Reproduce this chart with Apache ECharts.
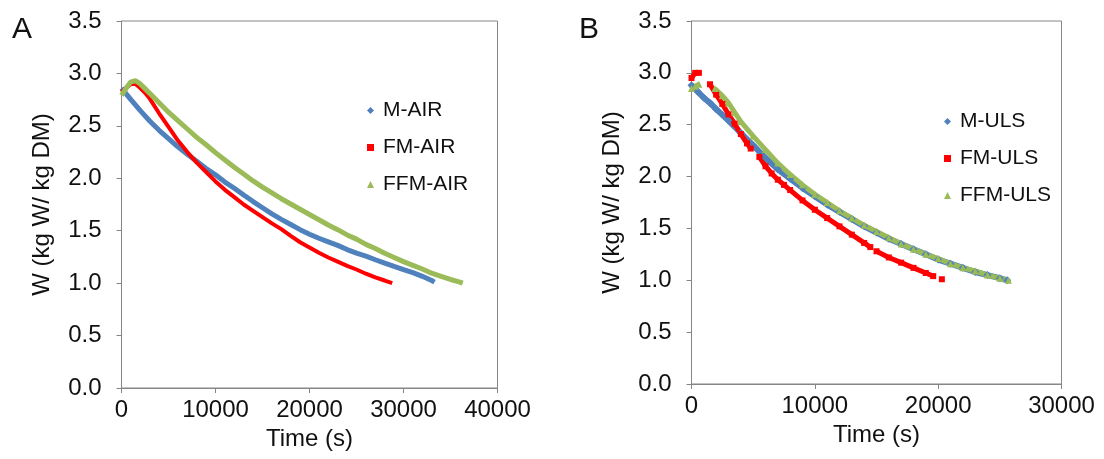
<!DOCTYPE html>
<html><head><meta charset="utf-8">
<script src="https://cdn.jsdelivr.net/npm/echarts@6/dist/echarts.min.js"></script>
<style>html,body{margin:0;padding:0;background:#fff}#c{width:1104px;height:459px}</style>
</head><body><div id="c"></div>
<script>
// ---- Panel A (AIR) ----
const tA_M = [0,1000,2000,3000,4000,5000,6000,7000,8000,9000,10000,11000,12000,13000,14000,15000,16000,17000,18000,19000,20000,21000,22000,23000,24000,25000,26000,27000,28000,29000,30000,31000,32000,33000,33300];
const wA_M = [2.86,2.75,2.645,2.546,2.458,2.379,2.30,2.23,2.162,2.093,2.033,1.964,1.905,1.84,1.778,1.719,1.66,1.608,1.559,1.51,1.467,1.428,1.394,1.36,1.32,1.286,1.257,1.223,1.19,1.159,1.13,1.10,1.065,1.025,1.01];
const tA_FM = [0,500,1000,1500,2000,2500,3000,4000,5000,6000,7000,8000,9000,10000,11000,12000,13000,14000,15000,16000,17000,18000,19000,20000,21000,22000,23000,24000,25000,26000,27000,28000,28800];
const wA_FM = [2.82,2.86,2.90,2.90,2.86,2.815,2.76,2.62,2.49,2.36,2.25,2.15,2.06,1.97,1.89,1.82,1.75,1.69,1.63,1.57,1.515,1.45,1.39,1.34,1.29,1.245,1.205,1.165,1.13,1.09,1.055,1.025,1.00];
const tA_FFM = [0,500,1000,1500,2000,2500,3000,4000,5000,6000,7000,8000,9000,10000,11000,12000,13000,14000,15000,16000,17000,18000,19000,20000,21000,22000,23000,24000,25000,26000,27000,28000,29000,30000,31000,32000,33000,34000,35000,36000,36300];
const wA_FFM = [2.79,2.86,2.92,2.93,2.90,2.855,2.81,2.72,2.63,2.55,2.47,2.39,2.32,2.245,2.175,2.105,2.04,1.975,1.915,1.86,1.805,1.755,1.705,1.655,1.605,1.555,1.51,1.46,1.42,1.37,1.33,1.285,1.245,1.205,1.17,1.135,1.095,1.065,1.035,1.01,1.00];

// ---- Panel B (ULS) ----
const tB_M = [0,500,1000,1500,2000,3000,4000,5000,6000,7000,8000,9000,10000,11000,12000,13000,14000,15000,16000,17000,18000,19000,20000,21000,22000,23000,24000,25000,25600];
const wB_M = [2.88,2.82,2.76,2.71,2.65,2.54,2.42,2.30,2.18,2.07,1.98,1.89,1.81,1.73,1.66,1.59,1.52,1.46,1.40,1.35,1.30,1.25,1.20,1.16,1.12,1.08,1.05,1.02,1.00];
const tB_FM = [0,300,600,1000,1500,2000,2500,3000,3500,4000,4500,4800,5100,5500,6000,6500,7000,7500,8000,9000,10000,11000,12000,13000,14000,14500,14700,15000,16000,17000,18000,19000,19600,19900,20300];
const wB_FM = [2.95,3.00,3.00,null,2.89,2.79,2.70,2.60,2.51,2.41,2.32,2.27,null,2.19,2.10,2.03,1.97,1.92,1.87,1.77,1.68,1.60,1.52,1.44,1.36,1.32,null,1.28,1.22,1.17,1.12,1.07,1.04,null,1.01];
const tB_FFM = [0,300,600,1200,1900,2500,3000,3500,4000,5000,6000,7000,8000,9000,10000,11000,12000,13000,14000,15000,16000,17000,18000,19000,20000,21000,22000,23000,24000,25000,25700];
const wB_FFM = [2.85,2.87,2.89,null,2.85,2.78,2.71,2.62,2.53,2.39,2.26,2.13,2.02,1.92,1.83,1.75,1.67,1.60,1.53,1.47,1.41,1.35,1.30,1.25,1.21,1.16,1.12,1.09,1.05,1.02,1.00];

const namesA = ['M-AIR','FM-AIR','FFM-AIR'];
const namesB = ['M-ULS','FM-ULS','FFM-ULS'];
const yTitle = 'W (kg W/ kg DM)';
const xTitle = 'Time (s)';

const FONT = '"Liberation Sans", Arial, sans-serif';
const TXT = '#111';
const AX = '#868686';
const BLUE = '#4f81bd', RED = '#ff0000', GREEN = '#9bbb59';

function pairs(t, v){ return t.map((x,i)=> v[i]==null ? [x,'-'] : [x, v[i]]); }

function xAxis(gi, max){
  return {type:'value', gridIndex:gi, min:0, max:max, interval:10000,
    axisLine:{show:true, onZero:false, lineStyle:{color:AX, width:1}},
    axisTick:{show:true, length:5, lineStyle:{color:AX}},
    axisLabel:{fontSize:24, color:TXT, margin:10, fontFamily:FONT, formatter:v=>String(v)},
    splitLine:{show:false},
    name:xTitle, nameLocation:'middle', nameGap:38,
    nameTextStyle:{fontSize:24, color:TXT, fontFamily:FONT}};
}
function yAxis(gi){
  return {type:'value', gridIndex:gi, min:0, max:3.5, interval:0.5,
    axisLine:{show:true, onZero:false, lineStyle:{color:AX, width:1}},
    axisTick:{show:true, length:5, lineStyle:{color:AX}},
    axisLabel:{fontSize:24, color:TXT, margin:20, fontFamily:FONT, formatter:v=>v.toFixed(1)},
    splitLine:{show:false},
    name:yTitle, nameLocation:'middle', nameGap:67,
    nameTextStyle:{fontSize:24, color:TXT, fontFamily:FONT}};
}
function legend(names, left, top){
  const icons = ['diamond','rect','triangle'];
  return {orient:'vertical', left:left, top:top, itemGap:16, itemWidth:7, itemHeight:7, padding:0,
    textStyle:{fontSize:21, color:TXT, fontFamily:FONT, padding:[0,0,0,4]},
    data:names.map((n,i)=>({name:n, icon:icons[i]}))};
}
function lineSeries(name, gi, t, v, color, width, symbol, symSize, showSym){
  return {name:name, type:'line', xAxisIndex:gi, yAxisIndex:gi, data:pairs(t,v),
    symbol:symbol, symbolSize:symSize, showSymbol:showSym, connectNulls:false,
    lineStyle:{color:color, width:width}, itemStyle:{color:color},
    emphasis:{disabled:true}, animation:false, z:2};
}

const chart = echarts.init(document.getElementById('c'), null, {renderer:'canvas'});
chart.setOption({
  animation:false,
  backgroundColor:'#fff',
  textStyle:{fontFamily:FONT},
  title:[
    {text:'A', left:7, top:10, textStyle:{fontSize:30, fontWeight:'normal', color:TXT, fontFamily:FONT}},
    {text:'B', left:574, top:10, textStyle:{fontSize:30, fontWeight:'normal', color:TXT, fontFamily:FONT}}
  ],
  grid:[
    {left:121.5, top:21, width:376, height:367, show:true, borderColor:AX, borderWidth:1, containLabel:false},
    {left:691.5, top:21, width:370, height:363, show:true, borderColor:AX, borderWidth:1, containLabel:false}
  ],
  xAxis:[xAxis(0,40000), xAxis(1,30000)],
  yAxis:[yAxis(0), yAxis(1)],
  legend:[legend(namesA, 367, 100), legend(namesB, 944, 111)],
  series:[
    lineSeries(namesA[0],0,tA_M,wA_M,BLUE,5,'diamond',6,false),
    lineSeries(namesA[1],0,tA_FM,wA_FM,RED,4,'rect',5,false),
    lineSeries(namesA[2],0,tA_FFM,wA_FFM,GREEN,5,'triangle',6,false),
    lineSeries(namesB[0],1,tB_M,wB_M,BLUE,6,'diamond',8,true),
    lineSeries(namesB[1],1,tB_FM,wB_FM,RED,5,'rect',6,true),
    lineSeries(namesB[2],1,tB_FFM,wB_FFM,GREEN,5,'triangle',7,true)
  ]
});
</script></body></html>
